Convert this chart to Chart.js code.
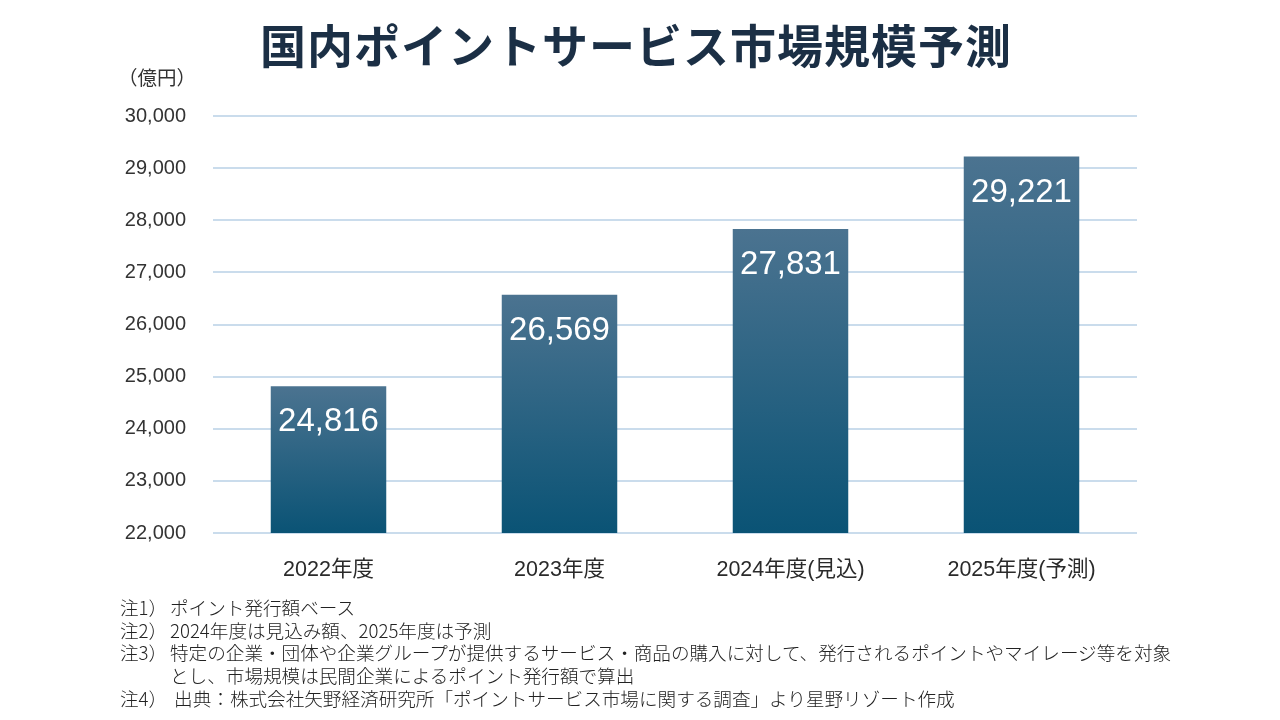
<!DOCTYPE html>
<html lang="ja">
<head>
<meta charset="utf-8">
<script src="https://cdn.jsdelivr.net/npm/chart.js@4.4.1/dist/chart.umd.min.js"></script>
<style>
  html, body { margin: 0; padding: 0; background: #fff; }
  #wrap { position: relative; width: 1280px; height: 720px; overflow: hidden; }
  #myChart { position: absolute; left: 0; top: 0; }
  .title {
    position: absolute; left: 0; width: 1272px; top: 12px; text-align: center;
    font-family: 'Noto Sans CJK JP', sans-serif; font-weight: bold; font-size: 46px;
    color: #1b2f45; line-height: 62px; letter-spacing: 1px;
  }
  .unit {
    position: absolute; left: 118px; top: 62px;
    font-family: 'Noto Sans CJK JP', sans-serif; font-size: 19.5px; color: #333;
  }
  .notes {
    position: absolute; left: 120px; top: 596px;
    font-family: 'Noto Sans CJK JP', sans-serif; font-size: 18.6px; color: #222;
    font-weight: 300;
  }
  .notes div { height: 22.7px; line-height: 22.7px; white-space: nowrap; }
  .notes span.n { display: inline-block; width: 50px; }
</style>
</head>
<body>
<div id="wrap">
  <canvas id="myChart" width="1280" height="720"></canvas>
  <div class="title">国内ポイントサービス市場規模予測</div>
  <div class="unit">（億円）</div>
  <div class="notes">
    <div><span class="n">注1）</span>ポイント発行額ベース</div>
    <div><span class="n">注2）</span>2024年度は見込み額、2025年度は予測</div>
    <div><span class="n">注3）</span>特定の企業・団体や企業グループが提供するサービス・商品の購入に対して、発行されるポイントやマイレージ等を対象</div>
    <div><span class="n"></span>とし、市場規模は民間企業によるポイント発行額で算出</div>
    <div><span class="n">注4）</span>&nbsp;出典：株式会社矢野経済研究所「ポイントサービス市場に関する調査」より星野リゾート作成</div>
  </div>
</div>
<script>
let labels = ['2022年度', '2023年度', '2024年度(見込)', '2025年度(予測)'];
let values = [24816, 26569, 27831, 29221];
let yMin = 22000;
let yMax = 30000;
let yStep = 1000;

let fontFamily = "'Liberation Sans', 'Noto Sans CJK JP', sans-serif";

// white value labels inside the top of each bar
let valueLabels = {
	id: 'valueLabels',
	afterDatasetsDraw(chart) {
		let c = chart.ctx;
		let meta = chart.getDatasetMeta(0);
		c.save();
		c.fillStyle = '#ffffff';
		c.font = '33px ' + fontFamily;
		c.textAlign = 'center';
		c.textBaseline = 'middle';
		meta.data.forEach((bar, i) => {
			c.fillText(values[i].toLocaleString('en-US'), bar.x, bar.y + 36);
		});
		c.restore();
	}
};

let ctx = document.getElementById('myChart').getContext('2d');

let myChart = new Chart(ctx, {
	type: 'bar',
	data: {
		labels: labels,
		datasets: [{
			data: values,
			backgroundColor: (context) => {
				let chart = context.chart;
				let area = chart.chartArea;
				if (!area || context.raw === undefined) return '#2a6385';
				let top = chart.scales.y.getPixelForValue(context.raw);
				let g = chart.ctx.createLinearGradient(0, top, 0, area.bottom);
				g.addColorStop(0, '#4b7390');
				g.addColorStop(1, '#0a5375');
				return g;
			},
			borderWidth: 0,
			barPercentage: 0.5,
			categoryPercentage: 1.0
		}]
	},
	options: {
		responsive: false,
		animation: false,
		layout: { padding: { top: 116, right: 143, bottom: 0, left: 0 } },
		plugins: {
			legend: { display: false },
			tooltip: { enabled: false }
		},
		scales: {
			x: {
				grid: { display: false, drawTicks: false },
				border: { display: false },
				ticks: {
					color: '#2a2a2a',
					font: { family: fontFamily, size: 21.5 },
					padding: 24,
					maxRotation: 0
				},
				afterFit: (scale) => { scale.height = 187; }
			},
			y: {
				min: yMin,
				max: yMax,
				grid: { color: '#cadcec', lineWidth: 2, drawTicks: false },
				border: { display: false },
				ticks: {
					stepSize: yStep,
					color: '#333',
					font: { family: fontFamily, size: 20 },
					padding: 27,
					callback: (v) => v.toLocaleString('en-US')
				},
				afterFit: (scale) => { scale.width = 213; }
			}
		}
	},
	plugins: [valueLabels]
});
</script>
</body>
</html>
